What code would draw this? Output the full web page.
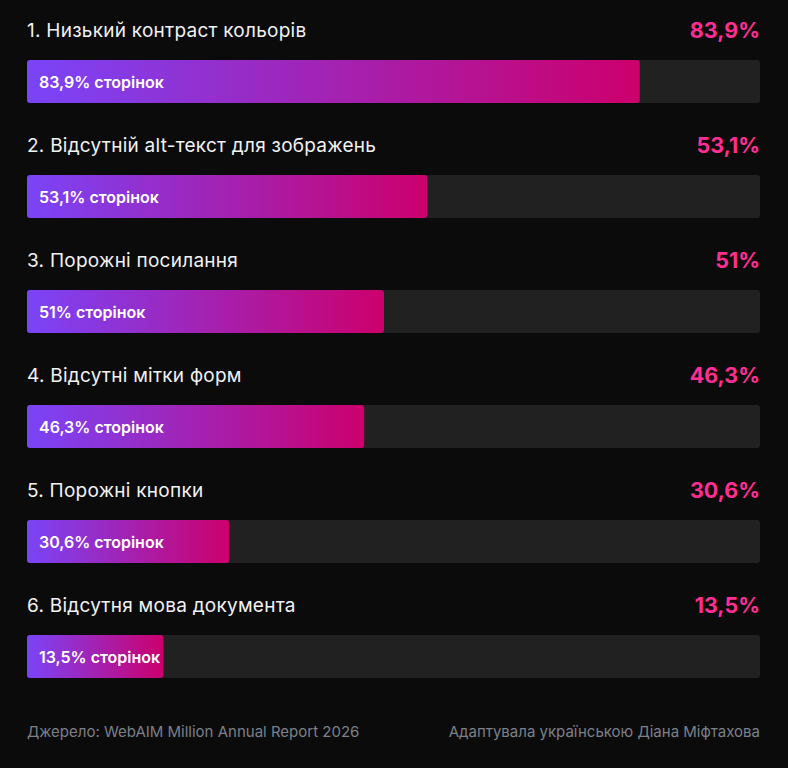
<!DOCTYPE html>
<html>
  <head>
    <meta charset="utf-8" />
    <style>
      html,
      body {
        margin: 0;
        padding: 0;
        background: #0b0b0b;
      }
      svg {
        display: block;
        font-family: Inter, "Noto Sans", sans-serif;
      }
    </style>
  </head>
  <body>
    <svg></svg>

    <script src="https://d3js.org/d3.v7.min.js"></script>
    <script>
      let width = 788,
        height = 768;

      // issues, in the order shown
      let issues = [
        "1. Низький контраст кольорів",
        "2. Відсутній alt-текст для зображень",
        "3. Порожні посилання",
        "4. Відсутні мітки форм",
        "5. Порожні кнопки",
        "6. Відсутня мова документа",
      ];
      // share of home pages with the issue, %
      let values = [83.9, 53.1, 51, 46.3, 30.6, 13.5];
      // how far each coloured fill reaches along its track, %
      let fillShare = [83.6, 54.6, 48.7, 46.0, 27.6, 18.6];

      let source = "Джерело: WebAIM Million Annual Report 2026";
      let credit = "Адаптувала українською Діана Міфтахова";

      let fmt = (v) => String(v).replace(".", ",") + "%";

      let margin = { left: 27, right: 28 };
      let rowTop = 14,
        rowStep = 115;

      let svg = d3
        .select("svg")
        .attr("width", width)
        .attr("height", height)
        .attr("viewBox", "0 0 " + width + " " + height);

      let defs = svg.append("defs");
      let grad = defs
        .append("linearGradient")
        .attr("id", "barGradient")
        .attr("x1", "0%")
        .attr("y1", "0%")
        .attr("x2", "100%")
        .attr("y2", "0%");
      grad.append("stop").attr("offset", "0%").attr("stop-color", "#7a44f8");
      grad.append("stop").attr("offset", "100%").attr("stop-color", "#cc006c");

      let x = d3
        .scaleLinear()
        .domain([0, 100])
        .range([margin.left, width - margin.right]);

      let y = d3
        .scaleBand()
        .domain(issues)
        .range([rowTop, rowTop + rowStep * issues.length])
        .paddingInner(0)
        .paddingOuter(0);

      let rows = issues.map((name, i) => ({
        name: name,
        value: values[i],
        fill: fillShare[i],
      }));

      let row = svg
        .append("g")
        .attr("id", "rows")
        .selectAll("g")
        .data(rows)
        .enter()
        .append("g")
        .attr("transform", (d) => "translate(0," + y(d.name) + ")");

      // title
      row
        .append("text")
        .attr("x", margin.left)
        .attr("y", 23)
        .attr("fill", "#f2f2f2")
        .attr("font-size", 19)
        .attr("font-weight", 400)
        .attr("letter-spacing", 0.25)
        .text((d) => d.name);

      // value at right
      row
        .append("text")
        .attr("x", width - margin.right)
        .attr("y", 23.5)
        .attr("text-anchor", "end")
        .attr("fill", "#ff2e92")
        .attr("font-size", 21.5)
        .attr("font-weight", 700)
        .text((d) => fmt(d.value));

      // track
      row
        .append("rect")
        .attr("x", x(0))
        .attr("y", 46)
        .attr("width", x(100) - x(0))
        .attr("height", 43)
        .attr("rx", 3)
        .attr("fill", "#212121");

      // fill
      row
        .append("rect")
        .attr("x", x(0))
        .attr("y", 46)
        .attr("width", (d) => x(d.fill) - x(0))
        .attr("height", 43)
        .attr("rx", 3)
        .attr("fill", "url(#barGradient)");

      // label inside bar
      row
        .append("text")
        .attr("x", x(0) + 12)
        .attr("y", 68)
        .attr("dy", "0.35em")
        .attr("fill", "#ffffff")
        .attr("font-size", 16)
        .attr("font-weight", 600)
        .text((d) => fmt(d.value) + " сторінок");

      // footer
      svg
        .append("text")
        .attr("x", margin.left)
        .attr("y", 737)
        .attr("fill", "#7c808a")
        .attr("font-size", 15)
        .text(source);

      svg
        .append("text")
        .attr("x", width - margin.right)
        .attr("y", 737)
        .attr("text-anchor", "end")
        .attr("fill", "#7c808a")
        .attr("font-size", 15)
        .text(credit);
    </script>
  </body>
</html>
